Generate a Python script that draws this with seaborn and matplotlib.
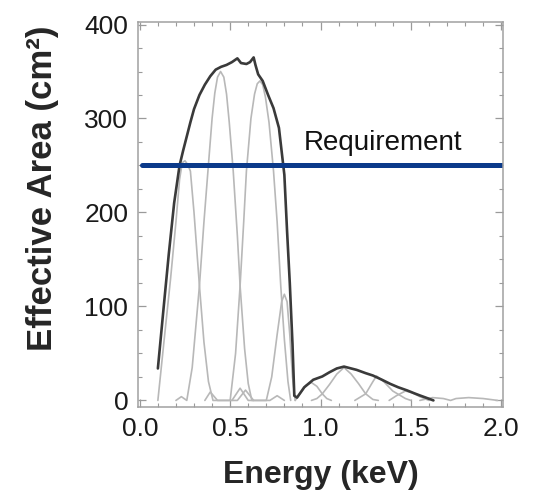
import matplotlib
matplotlib.use("Agg")
import matplotlib.pyplot as plt
from matplotlib.ticker import MultipleLocator
import numpy as np
import pandas as pd
import seaborn as sns

# total effective area (dark curve)
total_energy = [0.10, 0.13, 0.16, 0.19, 0.22, 0.24, 0.26, 0.28, 0.30, 0.33, 0.36, 0.39, 0.42,
                0.45, 0.48, 0.51, 0.54, 0.56, 0.59, 0.61, 0.63, 0.64, 0.655, 0.68, 0.71,
                0.74, 0.77, 0.785, 0.80, 0.815, 0.83, 0.845, 0.855, 0.87, 0.91, 0.96, 1.01,
                1.05, 1.09, 1.13, 1.17, 1.20, 1.25, 1.29, 1.34, 1.385, 1.43, 1.48, 1.52,
                1.55, 1.59, 1.625]
total_area = [34, 95, 155, 210, 250, 266, 281, 296, 310, 325, 336, 345, 352,
              355, 357, 360, 364, 359, 358, 360, 365, 357, 347, 340, 325,
              311, 290, 265, 240, 180, 125, 60, 5, 3, 14, 22, 25.5,
              30, 34, 36, 34, 32.5, 29, 26.5, 22, 17.7, 14, 10.6, 7.5,
              5.3, 2.5, 0]

# individual channel responses (light grey curves)
ch1_energy = [0.10, 0.135, 0.17, 0.20, 0.22, 0.235, 0.25, 0.265, 0.28, 0.30, 0.33, 0.355,
              0.38, 0.405, 0.54, 0.585, 0.63]
ch1_area = [0, 65, 129, 190, 235, 253, 255, 251, 244, 200, 122, 62, 20, 0, 0, 11, 0]

ch2_energy = [0.20, 0.23, 0.26, 0.29, 0.33, 0.355, 0.377, 0.40, 0.415, 0.43, 0.447, 0.465,
              0.48, 0.495, 0.517, 0.54, 0.555, 0.58, 0.60, 0.62, 0.72, 0.76, 0.80]
ch2_area = [0, 4, 0, 35, 122, 190, 244, 300, 327, 344, 350, 344, 326, 296, 244, 175, 122,
            55, 18, 0, 0, 5, 0]

ch3_energy = [0.36, 0.39, 0.43, 0.50, 0.53, 0.555, 0.575, 0.59, 0.615, 0.635, 0.65, 0.665,
              0.68, 0.695, 0.715, 0.74, 0.76, 0.78, 0.80, 0.82, 0.835]
ch3_area = [0, 9, 0, 0, 50, 122, 190, 244, 300, 326, 337, 340, 336, 323, 296, 244, 190, 122,
            65, 20, 0]

ch4_energy = [0.51, 0.555, 0.60, 0.70, 0.73, 0.76, 0.785, 0.80, 0.815, 0.83, 0.845, 0.86]
ch4_area = [0, 13, 0, 0, 25, 70, 105, 113, 105, 70, 25, 0]

ch5_energy = [0.86, 0.89, 0.92, 0.95, 0.98, 1.01, 1.035, 1.06]
ch5_area = [0, 8, 16, 19, 15, 7, 2, 0]

ch6_energy = [0.95, 0.98, 1.01, 1.05, 1.09, 1.13, 1.17, 1.21, 1.25, 1.29, 1.32]
ch6_area = [0, 2, 7, 17, 28, 35, 28, 18, 7, 1, 0]

ch7_energy = [1.19, 1.25, 1.29, 1.31, 1.35, 1.40, 1.47, 1.50]
ch7_area = [0, 7, 20, 26, 20, 10, 2, 0]

ch8_energy = [1.38, 1.42, 1.47, 1.51, 1.55, 1.60]
ch8_area = [0, 5, 10, 8, 4, 0]

ch9_energy = [1.55, 1.62, 1.68, 1.72, 1.75, 1.82, 1.90, 1.98]
ch9_area = [0, 3, 2, 0, 2, 3, 2, 0]

requirement = 250

channels = [(ch1_energy, ch1_area), (ch2_energy, ch2_area), (ch3_energy, ch3_area),
            (ch4_energy, ch4_area), (ch5_energy, ch5_area), (ch6_energy, ch6_area),
            (ch7_energy, ch7_area), (ch8_energy, ch8_area), (ch9_energy, ch9_area)]

rows = []
for i, (en, ar) in enumerate(channels):
    for e, a in zip(en, ar):
        rows.append({"channel": i, "energy": e, "area": a})
df_ch = pd.DataFrame(rows)
df_tot = pd.DataFrame({"energy": total_energy, "area": total_area})

sns.set_theme(style="ticks")
plt.rcParams["font.family"] = ["Liberation Sans", "DejaVu Sans"]

fig = plt.figure(figsize=(5.39, 4.98), dpi=100)
ax = fig.add_axes([138 / 539, 1 - 407 / 498, 365 / 539, 385.3 / 498])

sns.lineplot(data=df_ch, x="energy", y="area", units="channel", estimator=None,
             sort=False, color="#b8b8b8", linewidth=1.2, ax=ax)
sns.lineplot(data=df_tot, x="energy", y="area", estimator=None, sort=False,
             color="#3a3a3a", linewidth=1.9, ax=ax)
ax.axhline(requirement, xmin=0.01, xmax=1, color="#0b3a8a", linewidth=3.6)
ax.text(0.905, requirement + 17, "Requirement", fontsize=20, color="#111111",
        ha="left", va="baseline")

ax.set_xlim(-0.01, 2.01)
ax.set_ylim(-7, 403)
ax.xaxis.set_major_locator(MultipleLocator(0.5))
ax.xaxis.set_minor_locator(MultipleLocator(0.1))
ax.yaxis.set_major_locator(MultipleLocator(100))
ax.yaxis.set_minor_locator(MultipleLocator(25))
ax.xaxis.set_major_formatter(matplotlib.ticker.FormatStrFormatter("%.1f"))

ax.tick_params(which="both", direction="in", top=True, right=True,
               color="#9a9a9a", labelcolor="#1a1a1a", labelsize=19)
ax.tick_params(which="major", length=6, width=0.9, pad=7)
ax.tick_params(which="minor", length=3, width=0.8)
for s in ax.spines.values():
    s.set_color("#a0a0a0")
    s.set_linewidth(1.1)

ax.set_xlabel("Energy (keV)", fontsize=23, fontweight="bold", va="baseline")
ax.xaxis.set_label_coords(0.5, -0.197)
ax.set_ylabel("Effective Area (cm²)", fontsize=25, fontweight="bold", va="center")
ax.yaxis.set_label_coords(-0.263, 0.569)

fig.savefig("out.png", dpi=100)
